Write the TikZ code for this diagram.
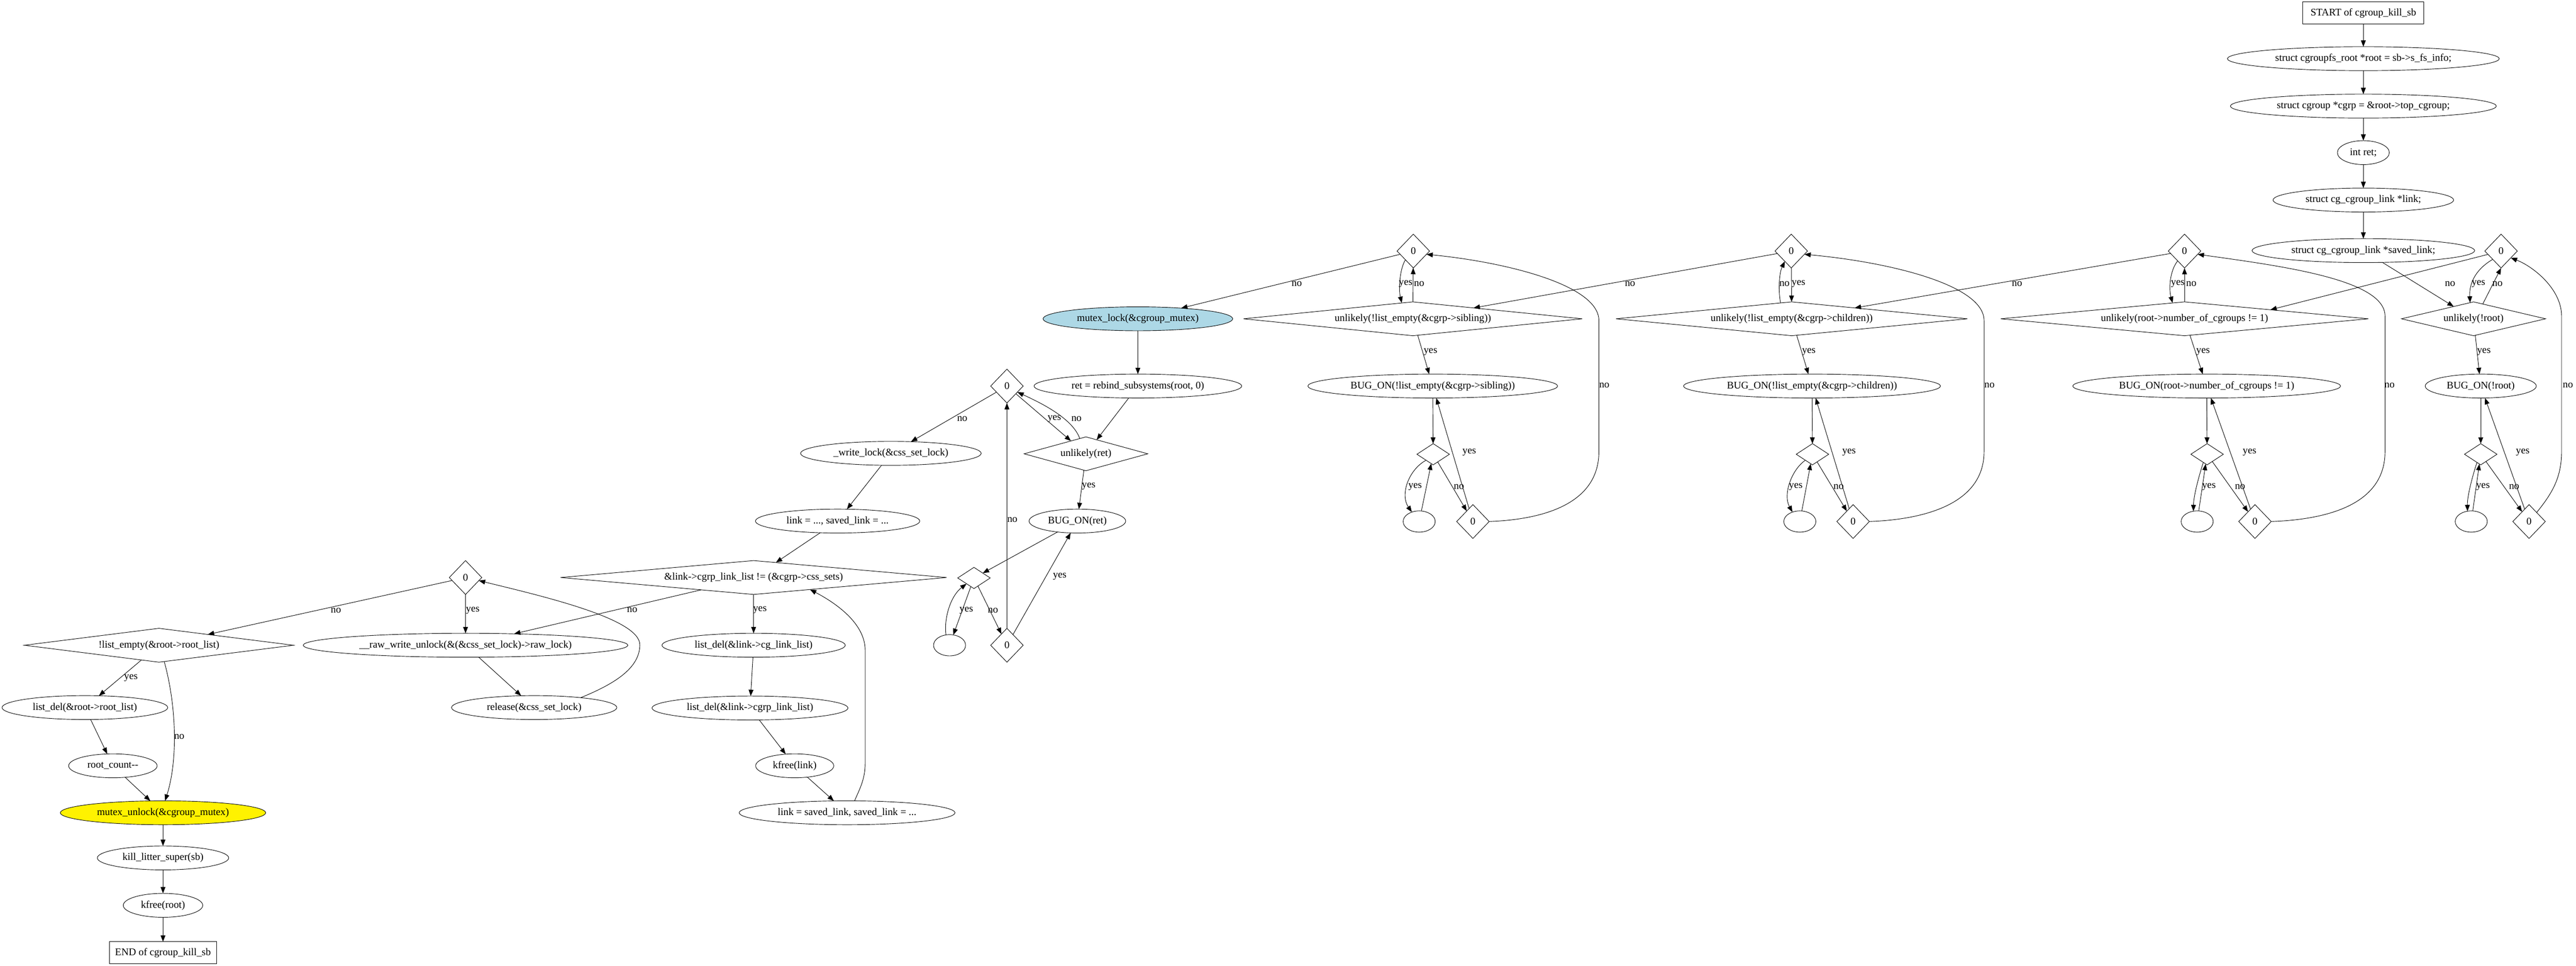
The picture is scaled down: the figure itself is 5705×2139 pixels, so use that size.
\documentclass[tikz,border=0pt]{standalone}
\usepackage{fontspec}
\setmainfont{Liberation Serif}
\usepackage{tikz}
\usetikzlibrary{shapes.geometric,arrows.meta}

\definecolor{lightblue}{RGB}{173,216,230}

\tikzset{
    every node/.style={font=\fontsize{14}{16}\selectfont, inner sep=0pt, outer sep=0pt},
    wd/.style={minimum width=#1*0.62pt},
    stmt/.style={ellipse, draw, minimum height=53*0.62pt},
    cond/.style={diamond, draw, minimum height=75*0.62pt},
    zero/.style={diamond, draw, minimum width=72*0.62pt, minimum height=75*0.62pt},
    knot/.style={diamond, draw, minimum width=72*0.62pt, minimum height=47*0.62pt},
    hole/.style={ellipse, draw, minimum width=71*0.62pt, minimum height=47*0.62pt},
    term/.style={rectangle, draw, minimum height=49*0.62pt},
    arr/.style={-{Triangle[length=8.7pt,width=6.6pt]}},
}

\begin{document}
\begin{tikzpicture}[x=0.62pt, y=-0.62pt, line width=0.65pt]
    % Keep the page the size of the whole drawing
    \useasboundingbox (0,0) rectangle (5705,2139);

    % Entry and declarations
    \node[term, wd=268] (start) at (5234,29) {START of cgroup\_kill\_sb};
    \node[stmt, wd=602] (root) at (5234,130) {struct cgroupfs\_root *root = sb->s\_fs\_info;};
    \node[stmt, wd=589] (cgrp) at (5234,235) {struct cgroup *cgrp = \&root->top\_cgroup;};
    \node[stmt, wd=115] (ret) at (5234,338) {int ret;};
    \node[stmt, wd=400] (link) at (5234,443) {struct cg\_cgroup\_link *link;};
    \node[stmt, wd=493] (saved) at (5234,555) {struct cg\_cgroup\_link *saved\_link;};

    % BUG_ON(!root)
    \node[zero] (zA) at (5539,556) {0};
    \node[cond, wd=319, aspect=4.25] (uA) at (5478,706) {unlikely(!root)};
    \node[stmt, wd=246] (bA) at (5494,855) {BUG\_ON(!root)};
    \node[knot] (sA) at (5494,1006) {};
    \node[hole] (cA) at (5473,1155) {};
    \node[zero] (oA) at (5601,1155) {0};

    % BUG_ON(number_of_cgroups)
    \node[zero] (zN) at (4838,556) {0};
    \node[cond, wd=814, aspect=10.85] (uN) at (4838,706) {unlikely(root->number\_of\_cgroups != 1)};
    \node[stmt, wd=593] (bN) at (4887,855) {BUG\_ON(root->number\_of\_cgroups != 1)};
    \node[knot] (sN) at (4888,1006) {};
    \node[hole] (cN) at (4866,1155) {};
    \node[zero] (oN) at (4994,1155) {0};

    % BUG_ON(children)
    \node[zero] (zC) at (3967,556) {0};
    \node[cond, wd=778, aspect=10.4] (uC) at (3968,706) {unlikely(!list\_empty(\&cgrp->children))};
    \node[stmt, wd=569] (bC) at (4013,855) {BUG\_ON(!list\_empty(\&cgrp->children))};
    \node[knot] (sC) at (4014,1006) {};
    \node[hole] (cC) at (3986,1155) {};
    \node[zero] (oC) at (4104,1155) {0};

    % BUG_ON(sibling)
    \node[zero] (zS) at (3130,556) {0};
    \node[cond, wd=750, aspect=10] (uS) at (3129,706) {unlikely(!list\_empty(\&cgrp->sibling))};
    \node[stmt, wd=553] (bS) at (3173,855) {BUG\_ON(!list\_empty(\&cgrp->sibling))};
    \node[knot] (sS) at (3174,1006) {};
    \node[hole] (cS) at (3143,1155) {};
    \node[zero] (oS) at (3262,1155) {0};

    % Lock and rebind
    \node[stmt, wd=420, fill=lightblue] (mutex) at (2520,706) {mutex\_lock(\&cgroup\_mutex)};
    \node[stmt, wd=460] (rebind) at (2520,855) {ret = rebind\_subsystems(root, 0)};
    \node[zero] (zR) at (2230,855) {0};
    \node[cond, wd=274, aspect=3.65] (uR) at (2405,1005) {unlikely(ret)};
    \node[stmt, wd=214] (bR) at (2386,1154) {BUG\_ON(ret)};
    \node[knot] (sR) at (2157,1280) {};
    \node[hole] (cR) at (2103,1429) {};
    \node[zero] (oR) at (2230,1429) {0};

    % Link loop
    \node[stmt, wd=400] (wlock) at (1973,1004) {\_write\_lock(\&css\_set\_lock)};
    \node[stmt, wd=364] (lk) at (1855,1154) {link = ..., saved\_link = ...};
    \node[cond, wd=855, aspect=11.4] (cs) at (1669,1279) {\&link->cgrp\_link\_list != (\&cgrp->css\_sets)};
    \node[stmt, wd=406] (ld1) at (1669,1429) {list\_del(\&link->cg\_link\_list)};
    \node[stmt, wd=434] (ld2) at (1661,1568) {list\_del(\&link->cgrp\_link\_list)};
    \node[stmt, wd=173] (kl) at (1760,1696) {kfree(link)};
    \node[stmt, wd=478] (ls) at (1876,1800) {link = saved\_link, saved\_link = ...};

    % Unlock and exit
    \node[zero] (zL) at (1031,1279) {0};
    \node[cond, wd=596, aspect=7.95] (ne) at (352,1429) {!list\_empty(\&root->root\_list)};
    \node[stmt, wd=719] (raw) at (1031,1429) {\_\_raw\_write\_unlock(\&(\&css\_set\_lock)->raw\_lock)};
    \node[stmt, wd=366] (rel) at (1183,1567) {release(\&css\_set\_lock)};
    \node[stmt, wd=367] (ldr) at (188,1567) {list\_del(\&root->root\_list)};
    \node[stmt, wd=196] (rc) at (250,1696) {root\_count-{}-};
    \node[stmt, wd=455, fill=yellow] (mu) at (361,1800) {mutex\_unlock(\&cgroup\_mutex)};
    \node[stmt, wd=291] (kls) at (361,1900) {kill\_litter\_super(sb)};
    \node[stmt, wd=176] (kfr) at (361,2005) {kfree(root)};
    \node[term, wd=237] (stop) at (361,2110) {END of cgroup\_kill\_sb};

    % Plain connectors
    \foreach \a/\b in {start/root, root/cgrp, cgrp/ret, ret/link, link/saved, saved/uA,
        bA/sA, cA/sA, bN/sN, cN/sN, bC/sC, cC/sC, bS/sS, cS/sS,
        mutex/rebind, rebind/uR, bR/sR, wlock/lk, lk/cs, ld1/ld2, ld2/kl, kl/ls,
        raw/rel, ldr/rc, rc/mu, mu/kls, kls/kfr, kfr/stop}
        \draw[arr] (\a) -- (\b);

    % Labelled connectors, label at x/y
    \foreach \a/\b/\t/\x/\y in {uA.58/zA.south/no/5531/629, zA/uN.6/no/5426/629,
        uA/bA/yes/5501/779, sA/oA/no/5568/1078, oA/bA/yes/5587/1002,
        uN/zN/no/4853/629, zN/uC/no/4467/629, uN/bN/yes/4879/779,
        sN/oN/no/4961/1078, oN/bN/yes/4982/1002,
        zC/uC/yes/3983/629, zC/uS/no/3610/629, uC/bC/yes/4006/779,
        sC/oC/no/4072/1078, oC/bC/yes/4095/1002,
        uS/zS/no/3143/629, zS/mutex/no/2872/629, uS/bS/yes/3168/779,
        sS/oS/no/3231/1078, oS/bS/yes/3254/1002,
        zR/wlock/no/2131/928, zR/uR/yes/2335/928, uR/bR/yes/2411/1077,
        oR/zR/no/2242/1151, oR/bR/yes/2347/1277, sR/cR/yes/2140/1352, sR/oR/no/2199/1352,
        cs/ld1/yes/1683/1351, cs/raw/no/1400/1351,
        zL/ne/no/744/1352, zL/raw/yes/1047/1352, ne/ldr/yes/290/1502}
        \draw[arr] (\a) -- (\b) node at (\x,\y) {\t};

    % Bent connectors
    \draw[arr] (zA.-135) .. controls (5485,595) and (5468,625) .. (uA.102) node at (5489,629) {yes};
    \draw[arr] (zN.-125) .. controls (4805,600) and (4803,640) .. (uN.127) node at (4823,629) {yes};
    \draw[arr] (uC.125) .. controls (3938,645) and (3940,605) .. (zC.-122) node at (3952,629) {no};
    \draw[arr] (zS.-132) .. controls (3100,595) and (3097,640) .. (uS.125) node at (3113,629) {yes};
    \draw[arr] (uR.112) .. controls (2375,925) and (2300,890) .. (zR.-30) node at (2384,928) {no};

    \draw[arr] (sA.-115) .. controls (5474,1060) and (5464,1100) .. (cA.110) node at (5499,1078) {yes};
    \draw[arr] (sN.-115) .. controls (4868,1060) and (4858,1100) .. (cN.110) node at (4892,1078) {yes};
    \draw[arr] (sC.-140) .. controls (3968,1040) and (3948,1095) .. (cC.128) node at (3977,1078) {yes};
    \draw[arr] (sS.-140) .. controls (3120,1040) and (3100,1095) .. (cS.128) node at (3134,1078) {yes};
    \draw[arr] (cR.109) .. controls (2090,1370) and (2105,1320) .. (sR.-142);

    % Loop-back connectors
    \draw[arr] (oA.50) .. controls (5650,1095) and (5673,1060) .. (5673,1000)
        -- (5673,700) node at (5687,853) {no}
        .. controls (5673,640) and (5610,590) .. (zA.-35);
    \draw[arr] (oN.east) .. controls (5170,1150) and (5282,1110) .. (5282,1000)
        -- (5282,700) node at (5292,853) {no}
        .. controls (5282,620) and (5060,590) .. (zN.-14);
    \draw[arr] (oC.east) .. controls (4275,1150) and (4394,1110) .. (4394,1000)
        -- (4394,710) node at (4406,853) {no}
        .. controls (4394,630) and (4180,580) .. (zC.-14);
    \draw[arr] (oS.east) .. controls (3430,1150) and (3541,1110) .. (3541,1000)
        -- (3541,710) node at (3553,853) {no}
        .. controls (3541,630) and (3330,580) .. (zS.-14);
    \draw[arr] (ls.58) .. controls (1905,1745) and (1916,1725) .. (1916,1690)
        -- (1916,1440) .. controls (1916,1380) and (1850,1335) .. (cs.-12);
    \draw[arr] (rel.12) .. controls (1360,1515) and (1417,1480) .. (1417,1428)
        .. controls (1417,1370) and (1200,1320) .. (zL.-13);
    \draw[arr] (ne.-72) .. controls (390,1560) and (395,1680) .. (mu.80) node at (397,1631) {no};
\end{tikzpicture}
\end{document}
